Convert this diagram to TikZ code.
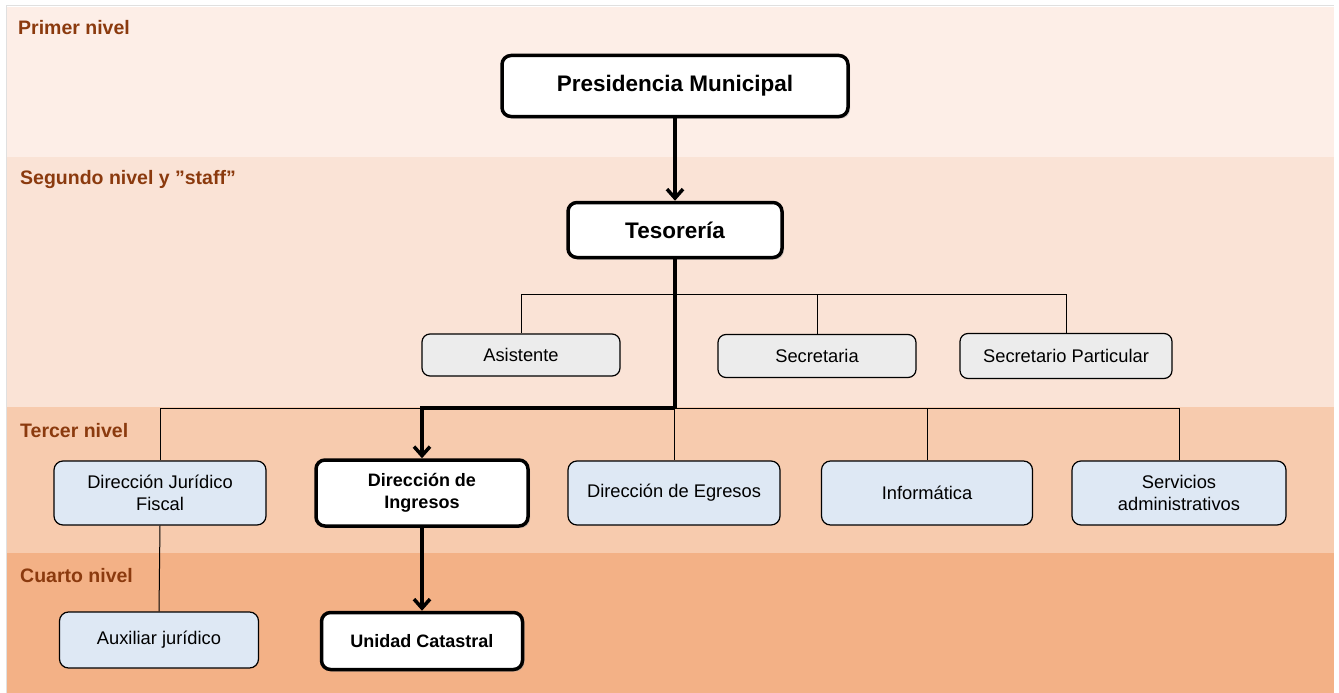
\documentclass[tikz,border=0pt]{standalone}
\usepackage{fontspec}
\setmainfont{Liberation Sans}
\usetikzlibrary{arrows.meta,shadows}
\definecolor{bandA}{HTML}{FDEEE7}
\definecolor{bandB}{HTML}{FAE3D6}
\definecolor{bandC}{HTML}{F7CBAE}
\definecolor{bandD}{HTML}{F3B186}
\definecolor{labcol}{HTML}{8B3A0E}
\definecolor{staffgray}{HTML}{ECECEC}
\definecolor{bluebox}{HTML}{DEE8F4}
\definecolor{edgegray}{HTML}{E0E0E0}
\tikzset{
  x=1pt,y=-1pt,
  level/.style={anchor=west,text=labcol,font=\bfseries\fontsize{19.5}{22}\selectfont,inner sep=0pt},
  mainbox/.style={draw=black,line width=3.5pt,fill=white,rounded corners=9pt,
    font=\bfseries\fontsize{22.5}{26}\selectfont,inner sep=0pt,
    drop shadow={shadow xshift=2pt,shadow yshift=-2pt,fill=black!35,opacity=0.5}},
  staffbox/.style={draw=black,line width=1.2pt,fill=staffgray,rounded corners=8pt,
    font=\fontsize{18.3}{22}\selectfont,inner sep=0pt},
  unitbox/.style={draw=black,line width=1.2pt,fill=bluebox,rounded corners=9pt,
    font=\fontsize{18.3}{22}\selectfont,inner sep=0pt,align=center},
  thin/.style={line width=1pt},
  thick/.style={line width=3.5pt},
  arr/.style={-{Straight Barb[length=9pt,width=16pt,line width=3.5pt]}}
}
\begin{document}
\begin{tikzpicture}
\useasboundingbox (0,0) rectangle (1339,693);
\fill[white] (0,0) rectangle (1339,693);
% bands
\fill[bandA] (7,7) rectangle (1334,157);
\fill[bandB] (7,157) rectangle (1334,407);
\fill[bandC] (7,407) rectangle (1334,553);
\fill[bandD] (7,553) rectangle (1334,693);
\draw[edgegray,line width=1pt] (6,693) -- (6,6) -- (1334,6);
% level labels
\node[level] (l1) at (18,28) {Primer nivel};
\node[level] (l2) at (20,180) {Segundo nivel y ”staff”};
\node[level] (l3) at (20,431) {Tercer nivel};
\node[level] (l4) at (20,576) {Cuarto nivel};
% nodes
\node[mainbox,minimum width=346pt,minimum height=61pt] (pres) at (675,86) {Presidencia Municipal};
\node[mainbox,minimum width=214pt,minimum height=55pt] (tes) at (675,230) {Tesorería};
\node[staffbox,minimum width=198pt,minimum height=42pt] (asis) at (521,355) {Asistente};
\node[staffbox,minimum width=198pt,minimum height=43pt] (secr) at (817,356) {Secretaria};
\node[staffbox,minimum width=212pt,minimum height=45pt] (secp) at (1066,356) {Secretario Particular};
\node[unitbox,minimum width=212pt,minimum height=64pt] (djf) at (160,493) {Dirección Jurídico\\Fiscal};
\node[mainbox,align=center,minimum width=212pt,minimum height=66pt,font=\bfseries\fontsize{18}{22}\selectfont] (din) at (422,493) {Dirección de\\Ingresos};
\node[unitbox,minimum width=212pt,minimum height=64pt] (deg) at (674,493) {Dirección de Egresos};
\node[unitbox,minimum width=211pt,minimum height=64pt] (inf) at (927,493) {Informática};
\node[unitbox,minimum width=214pt,minimum height=64pt] (serv) at (1179,493) {Servicios\\administrativos};
\node[unitbox,minimum width=199pt,minimum height=56pt] (aux) at (159,640) {Auxiliar jurídico};
\node[mainbox,minimum width=201pt,minimum height=57pt,font=\bfseries\fontsize{18}{22}\selectfont] (uc) at (422,641) {Unidad Catastral};
% junction coordinates
\coordinate (s1) at (521,294);
\coordinate (s3) at (1066,294);
\coordinate (t1) at (160,408);
\coordinate (t5) at (1179,408);
\coordinate (tm) at (675,408);
\coordinate (ti) at (422,408);
% connectors
\draw[thin] (s1) -- (s3);
\draw[thin] (s1) -- (asis.north);
\draw[thin] (secr.north |- s1) -- (secr.north);
\draw[thin] (s3) -- (secp.north);
\draw[thin] (t1) -- (t5);
\draw[thin] (t1) -- (djf.north);
\draw[thin] (deg.north |- t1) -- (deg.north);
\draw[thin] (inf.north |- t1) -- (inf.north);
\draw[thin] (t5) -- (serv.north);
\draw[thin] (djf.south) -- (aux.north);
\draw[thick,arr] (pres.south) -- (tes.north);
\draw[thick] (tes.south) -- (tm);
\draw[thick,arr,line join=miter] (tm) -- (ti) -- (din.north);
\draw[thick,arr] (din.south) -- (uc.north);
\end{tikzpicture}
\end{document}
